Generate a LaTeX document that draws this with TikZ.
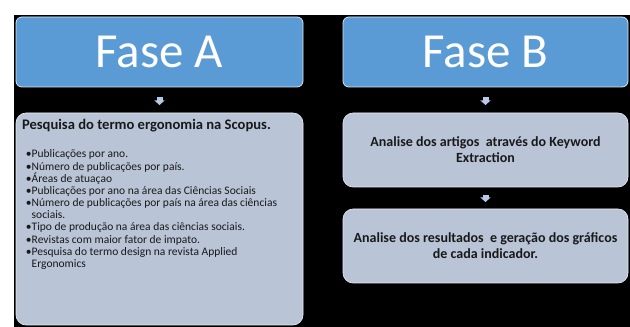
\documentclass[tikz,border=0pt]{standalone}
\usepackage{fontspec}
\setmainfont{Carlito}
\usetikzlibrary{arrows.meta}
\definecolor{faseazul}{RGB}{91,155,213}
\definecolor{caixacinza}{RGB}{185,196,214}
\definecolor{setaazul}{RGB}{183,201,230}

\begin{document}
\begin{tikzpicture}[x=1pt,y=1pt]
\tikzstyle{every node}=[inner sep=0pt, outer sep=0pt]
\tikzstyle{fase}=[draw=white!75!faseazul, line width=.8pt, fill=faseazul, rounded corners=6pt, minimum height=70pt, text=white, font=\fontsize{49}{52}\selectfont]
\tikzstyle{caixa}=[draw=white!70!caixacinza, line width=.6pt, fill=caixacinza, rounded corners=10pt, text=black!90, font=\bfseries\fontsize{14}{16}\selectfont, align=center]
\tikzstyle{seta}=[draw=setaazul, line width=6pt, -{Triangle[width=10pt,length=4.5pt]}, shorten <=10pt, shorten >=8pt]
% fundo
\fill[white] (0,0) rectangle (630,327);
\fill[black] (14,0) rectangle (630,312);
% fase A
\draw (159.5,275) node (faseA) [fase, minimum width=287pt] {Fase A};
\draw (159.5,108) node (pesqA) [caixa, minimum width=287pt, minimum height=212pt] {};
\draw (22,201) node (tituloA) [anchor=west, text=black!90, font=\bfseries\fontsize{14.6}{16}\selectfont] {Pesquisa do termo ergonomia na Scopus.};
\draw (26,177) node (listaA) [anchor=north west, align=left, text=black!90, font=\fontsize{11.5}{12.15}\selectfont] {%
•Publicações por ano.\\
•Número de publicações por país.\\
•Áreas de atuaçao\\
•Publicações por ano na área das Ciências Sociais\\
•Número de publicações por país na área das ciências\\
\phantom{•}sociais.\\
•Tipo de produção na área das ciências sociais.\\
•Revistas com maior fator de impato.\\
•Pesquisa do termo design na revista Applied\\
\phantom{•}Ergonomics};
% fase B
\draw (485.5,275) node (faseB) [fase, minimum width=285pt] {Fase B};
\draw (485.5,177) node (artB) [caixa, minimum width=285pt, minimum height=74pt] {Analise dos artigos~ através do Keyword\\Extraction};
\draw (485.5,81) node (resB) [caixa, minimum width=285pt, minimum height=74pt] {Analise dos resultados~ e geração dos gráficos\\de cada indicador.};
% setas
\draw [seta] (faseA) -- (pesqA);
\draw [seta] (faseB) -- (artB);
\draw [seta, shorten <=8pt, shorten >=7pt] (artB) -- (resB);
\end{tikzpicture}
\end{document}
